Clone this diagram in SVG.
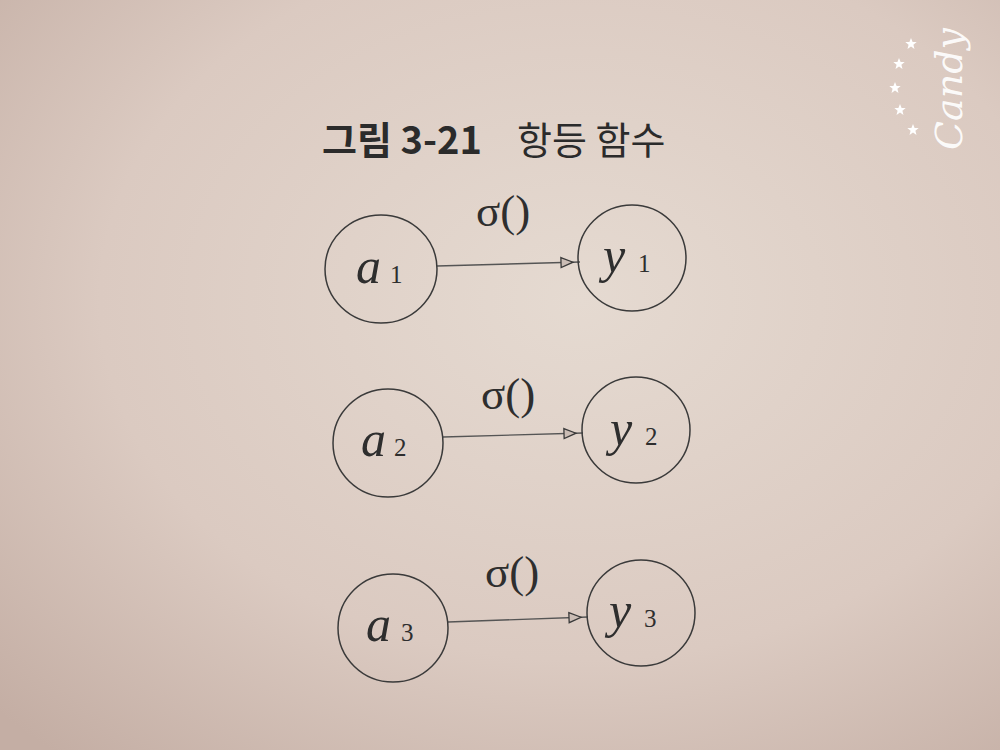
<svg xmlns="http://www.w3.org/2000/svg" xmlns:xlink="http://www.w3.org/1999/xlink" width="1000" height="750" viewBox="0 0 1000 750">
<style>
.node{fill:none;stroke:#3a3a3a;stroke-width:1.5}
.edge{stroke:#555;stroke-width:1.4;fill:none}
.var{font-family:"Liberation Serif",serif;font-style:italic;font-size:50px;fill:#2e2e2e}
.sub{font-family:"Liberation Serif",serif;font-size:25px;fill:#2e2e2e}
.fn{font-family:"Liberation Serif",serif;font-size:45px;fill:#2e2e2e}
.title{font-family:"Noto Sans CJK KR","Noto Sans",sans-serif;font-size:38px;fill:#2b2b2b}
</style>
<defs>
<radialGradient id="bg" cx="0.58" cy="0.4" r="0.8">
<stop offset="0" stop-color="#e5dad1"/>
<stop offset="0.6" stop-color="#dbcac1"/>
<stop offset="1" stop-color="#c4aea4"/>
</radialGradient>
<marker id="arr" markerUnits="userSpaceOnUse" markerWidth="22" markerHeight="12" refX="19" refY="5" orient="auto" overflow="visible">
<path d="M0,0 L12,5 L0,10 Z" fill="#cbbdb5" stroke="#3a3a3a" stroke-width="1.3"/>
</marker>
<path id="star" d="M0,-6 L1.6,-1.9 L5.7,-1.9 L2.4,0.8 L3.5,4.9 L0,2.5 L-3.5,4.9 L-2.4,0.8 L-5.7,-1.9 L-1.6,-1.9 Z" fill="#fff"/>
</defs>
<rect width="1000" height="750" fill="url(#bg)"/>

<g id="title">
<text class="title" x="322" y="154" font-weight="bold">그림 3-21</text>
<text class="title" x="517" y="154" fill="#3c3c3c">항등 함수</text>
</g>

<g id="connectors">
<line class="edge" x1="437" y1="266" x2="580" y2="262" marker-end="url(#arr)"/>
<line class="edge" x1="443" y1="437" x2="583" y2="433" marker-end="url(#arr)"/>
<line class="edge" x1="448" y1="622" x2="588" y2="617" marker-end="url(#arr)"/>
<text class="fn" x="476" y="226">σ()</text>
<text class="fn" x="481" y="409">σ()</text>
<text class="fn" x="485" y="587">σ()</text>
</g>

<g id="a1">
<ellipse class="node" cx="381" cy="269" rx="56" ry="54"/>
<text class="var" x="356" y="283">a</text><text class="sub" x="390" y="283">1</text>
</g>
<g id="y1">
<ellipse class="node" cx="632" cy="258" rx="54" ry="53"/>
<text class="var" x="603" y="272">y</text><text class="sub" x="638" y="272">1</text>
</g>
<g id="a2">
<ellipse class="node" cx="388" cy="443" rx="55" ry="54"/>
<text class="var" x="361" y="456">a</text><text class="sub" x="394" y="456">2</text>
</g>
<g id="y2">
<ellipse class="node" cx="636" cy="430" rx="54" ry="53"/>
<text class="var" x="610" y="445">y</text><text class="sub" x="645" y="445">2</text>
</g>
<g id="a3">
<ellipse class="node" cx="393" cy="628" rx="55" ry="54"/>
<text class="var" x="366" y="641">a</text><text class="sub" x="401" y="641">3</text>
</g>
<g id="y3">
<ellipse class="node" cx="641" cy="613" rx="54" ry="53"/>
<text class="var" x="609" y="627">y</text><text class="sub" x="644" y="627">3</text>
</g>

<g id="watermark">
<text x="0" y="0" transform="translate(962,150) rotate(-90)" font-family="DejaVu Serif,serif" font-style="italic" font-size="38" fill="#fff" fill-opacity="0.92">Candy</text>
<use xlink:href="#star" x="911" y="44"/>
<use xlink:href="#star" x="899" y="64"/>
<use xlink:href="#star" x="895" y="88"/>
<use xlink:href="#star" x="900" y="110"/>
<use xlink:href="#star" x="913" y="130"/>
</g>
</svg>
